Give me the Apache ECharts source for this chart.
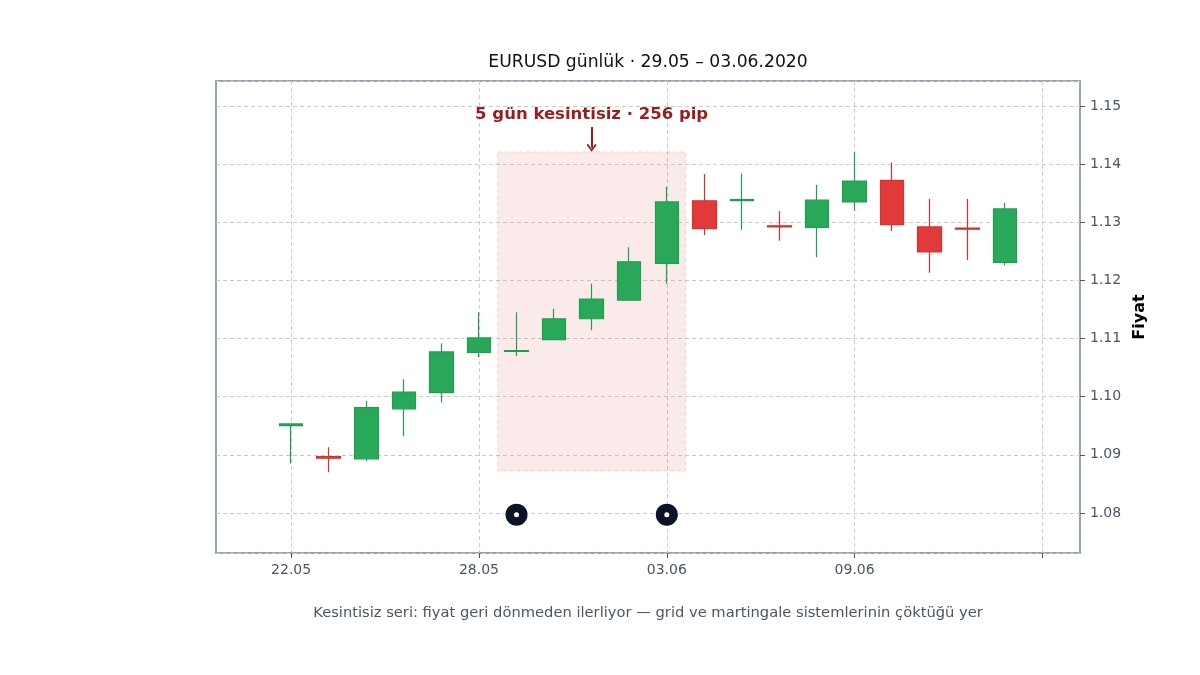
<!DOCTYPE html>
<html>
<head>
<meta charset="utf-8">
<script src="https://cdn.jsdelivr.net/npm/echarts@6/dist/echarts.min.js"></script>
<style>
  html, body { margin: 0; padding: 0; background: #fff; }
  #chart { width: 1200px; height: 675px; }
</style>
</head>
<body>
<div id="chart"></div>
<script>
// günlük mumlar: [açılış, kapanış, en düşük, en yüksek]
var candles = [
    [1.0950, 1.0953, 1.0885, 1.0954],
    [1.0897, 1.0894, 1.0870, 1.0913],
    [1.0893, 1.0981, 1.0889, 1.0993],
    [1.0979, 1.1008, 1.0932, 1.1030],
    [1.1007, 1.1077, 1.0990, 1.1092],
    [1.1076, 1.1101, 1.1068, 1.1145],
    [1.1078, 1.1079, 1.1070, 1.1145],
    [1.1098, 1.1134, 1.1097, 1.1151],
    [1.1134, 1.1168, 1.1114, 1.1194],
    [1.1166, 1.1232, 1.1166, 1.1257],
    [1.1229, 1.1335, 1.1194, 1.1361],
    [1.1337, 1.1289, 1.1278, 1.1383],
    [1.1337, 1.1339, 1.1287, 1.1384],
    [1.1294, 1.1292, 1.1268, 1.1319],
    [1.1291, 1.1338, 1.1240, 1.1364],
    [1.1335, 1.1371, 1.1320, 1.1421],
    [1.1372, 1.1296, 1.1285, 1.1403],
    [1.1292, 1.1249, 1.1213, 1.1340],
    [1.1290, 1.1288, 1.1235, 1.1340],
    [1.1231, 1.1323, 1.1226, 1.1333]
];
// eksen etiketleri (mum sırası -> etiket)
var tickIdx = [0, 5, 10, 15, 20];
var tickLabels = ['22.05', '28.05', '03.06', '09.06', ''];
// kesintisiz seri
var streakFirst = 6;
var streakLast = 10;
var streakBandLow = 1.0872;
var streakBandHigh = 1.1421;
var markLevel = 1.0797;
var noteText = '5 gün kesintisiz · 256 pip';
var noteLevel = 1.1485;
var arrowFrom = 1.1464;
var arrowTo = 1.1428;
// eksen aralığı
var xPad = 2;      // iki boş yuva sola, bir fazla sağa
var yMin = 1.0731;
var yMax = 1.1543;

var green = '#29a85a';
var greenLine = '#1f9e50';
var red = '#e03a3a';
var redLine = '#d93030';
var frame = '#94a3b8';
var textGray = '#4a5568';
var noteRed = '#9b1c1c';
var font = 'DejaVu Sans';

var slots = [];
var nSlots = candles.length + xPad + 2;
for (var i = 0; i < nSlots; i++) {
    var k = tickIdx.indexOf(i - xPad);
    slots.push(k >= 0 ? tickLabels[k] : '');
}
function isTick(index) {
    return tickIdx.indexOf(index - xPad) >= 0;
}

var candleData = [];
for (var i = 0; i < candles.length; i++) {
    candleData.push([i + xPad].concat(candles[i]));
}
var mid = (streakFirst + streakLast) / 2 + xPad;

var myChart = echarts.init(document.getElementById('chart'));
var option = {
    animation: false,
    backgroundColor: '#fff',
    textStyle: { fontFamily: font },
    graphic: [{
        type: 'text', x: 648, y: 54,
        style: {
            text: 'EURUSD günlük · 29.05 – 03.06.2020',
            font: '17.2px "DejaVu Sans"', fill: '#111', align: 'center'
        }
    }, {
        type: 'text', x: 648, y: 606,
        style: {
            text: 'Kesintisiz seri: fiyat geri dönmeden ilerliyor — grid ve martingale sistemlerinin çöktüğü yer',
            font: '14.7px "DejaVu Sans"', fill: textGray, align: 'center'
        }
    }],
    grid: {
        left: 216, right: 120, top: 81, bottom: 122,
        show: true, borderColor: frame, borderWidth: 2, backgroundColor: 'transparent'
    },
    xAxis: {
        type: 'category',
        data: slots,
        boundaryGap: false,
        axisLine: { show: false },
        axisTick: { show: true, inside: false, length: 5, interval: isTick, lineStyle: { color: textGray } },
        axisLabel: { interval: isTick, color: textGray, fontSize: 14, margin: 10, fontFamily: font },
        splitLine: { show: true, interval: isTick, lineStyle: { color: '#cccccc', type: [4, 3] } }
    },
    yAxis: {
        type: 'value',
        position: 'right',
        min: yMin, max: yMax,
        splitNumber: 8,
        name: 'Fiyat',
        nameLocation: 'middle',
        nameGap: 52,
        nameRotate: 90,
        nameTextStyle: { fontFamily: font, fontSize: 16, fontWeight: 'bold', color: '#000' },
        axisLine: { show: false },
        axisTick: { show: true, length: 5, lineStyle: { color: textGray } },
        axisLabel: {
            color: textGray, fontSize: 14, margin: 10, fontFamily: font,
            showMinLabel: false, showMaxLabel: false,
            formatter: function (v) { return v.toFixed(2); }
        },
        splitLine: { show: true, lineStyle: { color: '#cccccc', type: [4, 3] } }
    },
    series: [{
        // vurgulanan bölge: seri mumlarını yarım yuva taşarak kaplar
        type: 'custom',
        data: [[streakFirst + xPad, streakLast + xPad, streakBandLow, streakBandHigh]],
        encode: { x: [0, 1], y: [2, 3] },
        silent: true,
        z: 1,
        renderItem: function (params, api) {
            var p1 = api.coord([api.value(0), api.value(3)]);
            var p2 = api.coord([api.value(1), api.value(2)]);
            var half = api.size([1, 0])[0] / 2;
            return {
                type: 'rect',
                shape: { x: p1[0] - half, y: p1[1], width: p2[0] - p1[0] + 2 * half, height: p2[1] - p1[1] },
                style: {
                    fill: 'rgba(224, 90, 90, 0.13)',
                    stroke: 'rgba(224, 90, 90, 0.22)',
                    lineWidth: 1, lineDash: [4, 3]
                }
            };
        }
    }, {
        type: 'candlestick',
        data: candleData,
        encode: { x: 0, y: [1, 2, 3, 4] },
        barWidth: 24,
        itemStyle: {
            color: green, color0: red,
            borderColor: greenLine, borderColor0: redLine,
            borderWidth: 1.2
        },
        z: 3
    }, {
        type: 'scatter',
        data: [[streakFirst + xPad, markLevel], [streakLast + xPad, markLevel]],
        symbol: 'circle',
        symbolSize: 22,
        itemStyle: { color: '#0d1326', opacity: 1 },
        z: 5
    }, {
        type: 'scatter',
        data: [[streakFirst + xPad, markLevel], [streakLast + xPad, markLevel]],
        symbol: 'circle',
        symbolSize: 5,
        itemStyle: { color: '#fff', opacity: 1 },
        z: 6
    }, {
        type: 'scatter',
        data: [[mid, noteLevel]],
        symbolSize: 0,
        itemStyle: { opacity: 1 },
        label: {
            show: true, position: 'inside', formatter: noteText,
            fontFamily: font, fontSize: 16.5, fontWeight: 'bold', color: noteRed
        },
        markLine: {
            silent: true,
            symbol: ['none', 'path://M0,0 L6,8 L4.3,9.2 L0,3.4 L-4.3,9.2 L-6,8 Z'],
            symbolSize: [10, 8],
            label: { show: false },
            itemStyle: { color: noteRed },
            lineStyle: { color: noteRed, width: 2, type: 'solid', opacity: 1 },
            data: [[
                { coord: [mid, arrowFrom] },
                { coord: [mid, arrowTo] }
            ]]
        },
        z: 6
    }]
};
myChart.setOption(option);
</script>
</body>
</html>
